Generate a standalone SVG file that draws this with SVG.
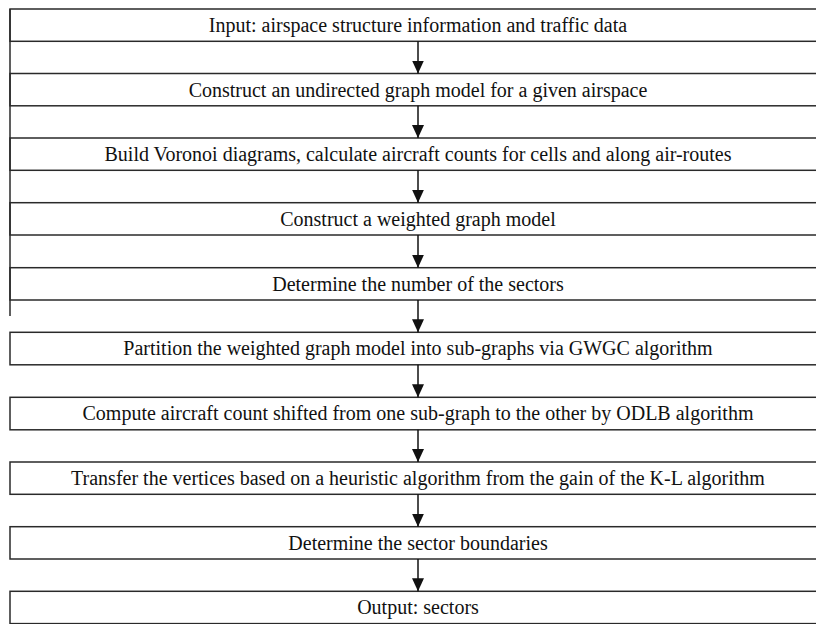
<svg xmlns="http://www.w3.org/2000/svg" width="816" height="624" viewBox="0 0 816 624">
<defs>
<style>
.box{fill:none;stroke:#2a2a2a;stroke-width:1.5}
.lbl{font-family:"Liberation Serif","Times New Roman",serif;font-size:20px;fill:#111;text-anchor:middle}
.conn{stroke:#111;stroke-width:1.5;fill:none;marker-end:url(#arr)}
</style>
<marker id="arr" markerUnits="userSpaceOnUse" markerWidth="14" markerHeight="12" viewBox="0 0 14 12" refX="13" refY="6" orient="auto">
<path d="M0,0 L13,6 L0,12 Z" fill="#111"/>
</marker>
</defs>
<rect width="816" height="624" fill="#fff"/>
<line x1="10" y1="9" x2="10" y2="316" class="box"/>
<g id="n1"><rect class="box" x="10" y="9" width="820" height="32.3"/><text class="lbl" x="418" y="32">Input: airspace structure information and traffic data</text></g>
<g id="n2"><rect class="box" x="10" y="73.5" width="820" height="32.3"/><text class="lbl" x="418" y="96.5">Construct an undirected graph model for a given airspace</text></g>
<g id="n3"><rect class="box" x="10" y="138" width="820" height="32.3"/><text class="lbl" x="418" y="161">Build Voronoi diagrams, calculate aircraft counts for cells and along air-routes</text></g>
<g id="n4"><rect class="box" x="10" y="202.7" width="820" height="32.3"/><text class="lbl" x="418" y="225.7">Construct a weighted graph model</text></g>
<g id="n5"><rect class="box" x="10" y="267.7" width="820" height="32.3"/><text class="lbl" x="418" y="290.7">Determine the number of the sectors</text></g>
<g id="n6"><rect class="box" x="10" y="332.3" width="820" height="32.5"/><text class="lbl" x="418" y="355.3">Partition the weighted graph model into sub-graphs via GWGC algorithm</text></g>
<g id="n7"><rect class="box" x="10" y="397.3" width="820" height="32.5"/><text class="lbl" x="418" y="420.3">Compute aircraft count shifted from one sub-graph to the other by ODLB algorithm</text></g>
<g id="n8"><rect class="box" x="10" y="462" width="820" height="32.3"/><text class="lbl" x="418" y="485">Transfer the vertices based on a heuristic algorithm from the gain of the K-L algorithm</text></g>
<g id="n9"><rect class="box" x="10" y="526.7" width="820" height="32.3"/><text class="lbl" x="418" y="549.7">Determine the sector boundaries</text></g>
<g id="n10"><rect class="box" x="10" y="591.3" width="820" height="32.3"/><text class="lbl" x="418" y="614.3">Output: sectors</text></g>
<g id="connectors">
<line class="conn" x1="418" y1="41.3" x2="418" y2="73.5"/>
<line class="conn" x1="418" y1="105.8" x2="418" y2="138"/>
<line class="conn" x1="418" y1="170.3" x2="418" y2="202.7"/>
<line class="conn" x1="418" y1="235" x2="418" y2="267.7"/>
<line class="conn" x1="418" y1="300" x2="418" y2="332.3"/>
<line class="conn" x1="418" y1="364.8" x2="418" y2="397.3"/>
<line class="conn" x1="418" y1="429.8" x2="418" y2="462"/>
<line class="conn" x1="418" y1="494.3" x2="418" y2="526.7"/>
<line class="conn" x1="418" y1="559" x2="418" y2="591.3"/>
</g>
</svg>
